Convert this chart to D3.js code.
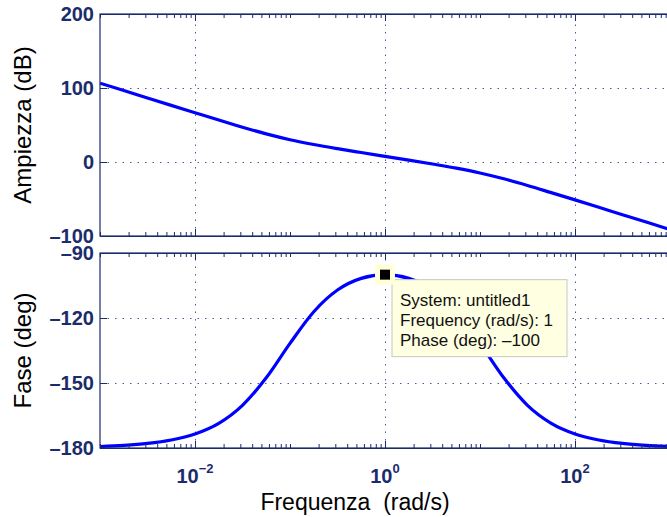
<!DOCTYPE html>
<html>
<head>
<meta charset="utf-8">
<script src="https://cdn.jsdelivr.net/npm/d3@7"></script>
<style>
  body { margin: 0; background: #fff; }
  svg { display: block; }
  .axis path, .axis line { stroke: #1b2c6b; }
  .grid line { stroke: #4a5a92; stroke-dasharray: 1.5,6; }
  .grid path { display: none; }
</style>
</head>
<body>
<div id="chart"></div>
<script>
// frequency points (rad/s)
const freqs = [0.001, 0.00178, 0.00316, 0.00562, 0.01, 0.0178, 0.0316, 0.0562, 0.1, 0.178, 0.316, 0.562,
               1, 1.78, 3.16, 5.62, 10, 17.8, 31.6, 56.2, 100, 178, 316, 562, 1000];
const magnitudeDb = [106.5, 96.5, 86.5, 76.5, 66.6, 56.7, 47.0, 38.0, 30.1, 23.6, 18.0, 12.8,
                     7.7, 2.6, -2.7, -8.3, -14.8, -22.7, -31.7, -41.4, -51.2, -61.2, -71.2, -81.2, -91.2];
const phaseDeg = [-179.3, -178.8, -177.9, -176.3, -173.5, -168.6, -160.3, -147.6, -131.7, -117.1, -107.1, -101.7,
                  -100.0, -101.7, -107.1, -117.1, -131.7, -147.6, -160.3, -168.6, -173.5, -176.3, -177.9, -178.8, -179.3];

const magTicks = [-100, 0, 100, 200];
const phaseTicks = [-180, -150, -120, -90];
const decadeTicks = [1e-2, 1e0, 1e2];
const decadeLabels = ["\u22122", "0", "2"];
const tipLines = ["System: untitled1", "Frequency (rad/s): 1", "Phase (deg): \u2013100"];
const tipFreq = 1, tipPhase = -100;

const width = 667, height = 517;
const axisColor = "#1b2c6b";
const left = 100, right = 670;

const svg = d3.select("#chart").append("svg")
    .attr("width", width)
    .attr("height", height)
    .style("font-family", "'Liberation Sans', Arial, sans-serif");

const x = d3.scaleLog().domain([1e-3, 1e3]).range([left, right]);
const yMag = d3.scaleLinear().domain([-100, 200]).range([236, 14]);
const yPh = d3.scaleLinear().domain([-180, -90]).range([448, 253]);

const minorTicks = x.ticks().filter(t => !decadeTicks.some(d => Math.abs(d - t) / d < 1e-9));

const fmtMinus = v => v < 0 ? "\u2013" + Math.abs(v) : String(v);

function panel(y, ticks, values, id) {
    const top = y.range()[1], bottom = y.range()[0];

    // grid
    svg.append("g").attr("class", "grid")
        .attr("transform", `translate(0,${bottom})`)
        .call(d3.axisBottom(x).tickValues(decadeTicks).tickSize(-(bottom - top)).tickFormat(""));
    svg.append("g").attr("class", "grid")
        .attr("transform", `translate(${left},0)`)
        .call(d3.axisLeft(y).tickValues(ticks.slice(1, -1)).tickSize(-(right - left)).tickFormat(""));

    // curve
    svg.append("clipPath").attr("id", id)
        .append("rect").attr("x", left).attr("y", top).attr("width", right - left).attr("height", bottom - top);

    const line = d3.line()
        .x((d, i) => x(freqs[i]))
        .y(d => y(d))
        .curve(d3.curveMonotoneX);

    svg.append("path")
        .datum(values)
        .attr("clip-path", `url(#${id})`)
        .attr("d", line)
        .attr("fill", "none")
        .attr("stroke", "#0000ff")
        .attr("stroke-width", 3.2);

    // ticks on all sides, pointing inward
    svg.append("g").attr("class", "axis").attr("transform", `translate(0,${bottom})`)
        .call(d3.axisBottom(x).tickValues(decadeTicks).tickSizeInner(-7).tickSizeOuter(0).tickFormat(""));
    svg.append("g").attr("class", "axis").attr("transform", `translate(0,${bottom})`)
        .call(d3.axisBottom(x).tickValues(minorTicks).tickSizeInner(-4).tickSizeOuter(0).tickFormat(""));
    svg.append("g").attr("class", "axis").attr("transform", `translate(0,${top})`)
        .call(d3.axisTop(x).tickValues(decadeTicks).tickSizeInner(-7).tickSizeOuter(0).tickFormat(""));
    svg.append("g").attr("class", "axis").attr("transform", `translate(0,${top})`)
        .call(d3.axisTop(x).tickValues(minorTicks).tickSizeInner(-4).tickSizeOuter(0).tickFormat(""));

    const yAxis = svg.append("g").attr("class", "axis").attr("transform", `translate(${left},0)`)
        .call(d3.axisLeft(y).tickValues(ticks).tickSizeInner(-7).tickSizeOuter(0).tickPadding(6).tickFormat(fmtMinus));
    yAxis.selectAll("text")
        .attr("fill", axisColor)
        .style("font-size", "20px")
        .style("font-weight", "bold")
        .style("font-family", "'Liberation Sans', Arial, sans-serif");
    yAxis.select(".domain").remove();

    // box
    svg.append("rect")
        .attr("x", left).attr("y", top)
        .attr("width", right - left).attr("height", bottom - top)
        .attr("fill", "none")
        .attr("stroke", axisColor)
        .attr("stroke-width", 1.2);
}

panel(yMag, magTicks, magnitudeDb, "clipMag");
panel(yPh, phaseTicks, phaseDeg, "clipPh");

// x tick labels 10^n
const xLabels = svg.append("g");
decadeTicks.forEach((t, i) => {
    const txt = xLabels.append("text")
        .attr("x", x(t))
        .attr("y", 483)
        .attr("text-anchor", "middle")
        .attr("fill", axisColor)
        .style("font-weight", "bold");
    txt.append("tspan").style("font-size", "20px").text("10");
    txt.append("tspan").style("font-size", "13px").attr("dy", -10).text(decadeLabels[i]);
});

// axis titles
svg.append("text")
    .attr("transform", `translate(31,${(yMag(200) + yMag(-100)) / 2}) rotate(-90)`)
    .attr("text-anchor", "middle")
    .style("font-size", "24px")
    .text("Ampiezza (dB)");

svg.append("text")
    .attr("transform", `translate(31,${(yPh(-90) + yPh(-180)) / 2}) rotate(-90)`)
    .attr("text-anchor", "middle")
    .style("font-size", "24px")
    .text("Fase (deg)");

svg.append("text")
    .attr("x", 355)
    .attr("y", 510)
    .attr("text-anchor", "middle")
    .style("font-size", "23px")
    .style("white-space", "pre")
    .text("Frequenza  (rad/s)");

// data tip
const mx = x(tipFreq), my = yPh(tipPhase);
svg.append("rect")
    .attr("x", mx + 7).attr("y", my + 5)
    .attr("width", 175).attr("height", 77)
    .attr("fill", "#ffffe1")
    .attr("stroke", "#c8c8c0")
    .attr("stroke-width", 1);
svg.append("rect")
    .attr("x", mx - 10).attr("y", my - 10)
    .attr("width", 20).attr("height", 20)
    .attr("fill", "#ffffd8");
svg.append("rect")
    .attr("x", mx - 5).attr("y", my - 5)
    .attr("width", 10).attr("height", 10)
    .attr("fill", "#000");

tipLines.forEach((s, i) => {
    svg.append("text")
        .attr("x", mx + 15)
        .attr("y", my + 31 + i * 20)
        .style("font-size", "17px")
        .attr("fill", "#111")
        .text(s);
});
</script>
</body>
</html>
